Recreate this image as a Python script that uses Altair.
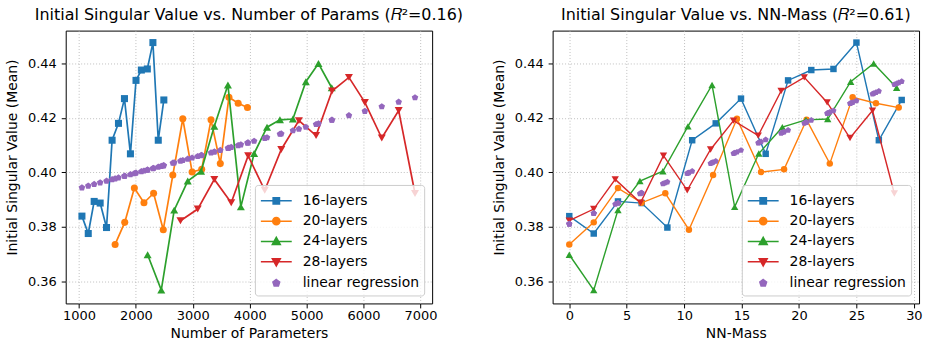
import altair as alt
import pandas as pd

SERIES = ["16-layers", "20-layers", "24-layers", "28-layers"]
REG_LABEL = "linear regression"
COLORS = ["#1f77b4", "#ff7f0e", "#2ca02c", "#d62728"]
REG_COLOR = "#9467bd"
SHAPES = ["square", "circle", "triangle-up", "triangle-down"]

# Number of parameters per model (x of the left panel)
params_16 = [1052, 1163, 1267, 1372, 1484, 1582, 1694, 1799, 1904, 2002, 2096, 2201, 2299, 2393, 2491]
params_20 = [1635, 1804, 1973, 2142, 2311, 2481, 2649, 2824, 2988, 3156, 3320, 3483, 3635, 3797, 3960]
params_24 = [2206, 2446, 2673, 2911, 3145, 3378, 3617, 3844, 4077, 4304, 4531, 4759, 4986, 5208, 5441]
params_28 = [2783, 3086, 3378, 3675, 3972, 4264, 4554, 4864, 5166, 5446, 5743, 6023, 6320, 6617, 6904]

# NN-Mass per model (x of the right panel)
mass_16 = [0, 2.13, 4.24, 6.3, 8.54, 10.7, 12.75, 14.95, 17.1, 19.05, 21.07, 23.0, 25.0, 26.95, 28.94]
mass_20 = [0, 2.13, 4.24, 6.3, 8.36, 10.42, 12.52, 14.6, 16.7, 18.7, 20.66, 22.68, 24.67, 26.7, 28.68]
mass_24 = [0, 2.13, 4.24, 6.15, 8.15, 10.33, 12.43, 14.4, 16.5, 18.55, 20.6, 22.5, 24.5, 26.5, 28.5]
mass_28 = [0, 2.13, 4.0, 6.2, 8.2, 10.27, 12.3, 14.3, 16.45, 18.44, 20.46, 22.45, 24.44, 26.4, 28.3]

# Initial singular value (mean) per model
sv_16 = [0.3839, 0.3775, 0.3893, 0.3887, 0.3797, 0.4118, 0.4180, 0.4271, 0.4068, 0.4338, 0.4376, 0.4380, 0.4477, 0.4118, 0.4266]
sv_20 = [0.3735, 0.3816, 0.3942, 0.3888, 0.3923, 0.3789, 0.3990, 0.4197, 0.4001, 0.4011, 0.4193, 0.4032, 0.4276, 0.4254, 0.4238]
sv_24 = [0.3697, 0.3567, 0.3861, 0.3968, 0.4004, 0.4169, 0.4321, 0.3873, 0.4069, 0.4166, 0.4193, 0.4196, 0.4333, 0.4400, 0.4311]
sv_28 = [0.3822, 0.3865, 0.3974, 0.3888, 0.4061, 0.3934, 0.4084, 0.4190, 0.4135, 0.4299, 0.4349, 0.4257, 0.4126, 0.4227, 0.3922]

X_TICKS_LEFT = [1000, 2000, 3000, 4000, 5000, 6000, 7000]
X_TICKS_RIGHT = [0, 5, 10, 15, 20, 25, 30]
Y_TICKS = [0.36, 0.38, 0.40, 0.42, 0.44]

TITLE_LEFT = "Initial Singular Value vs. Number of Params (\U0001D445\u00b2=0.16)"
TITLE_RIGHT = "Initial Singular Value vs. NN-Mass (\U0001D445\u00b2=0.61)"

PENTAGON = "M0,-1 L0.951,-0.309 L0.588,0.809 L-0.588,0.809 L-0.951,-0.309 Z"
# legend symbols: a line segment with the marker on it
LINE = "M-1,0 L2.1,0 "
LEG_PATHS = [
    LINE + "M0.23,-0.32 L0.87,-0.32 L0.87,0.32 L0.23,0.32 Z",
    LINE + "M0.19,0 A0.36,0.36 0 1,0 0.91,0 A0.36,0.36 0 1,0 0.19,0 Z",
    LINE + "M0.55,-0.42 L0.95,0.3 L0.15,0.3 Z",
    LINE + "M0.55,0.42 L0.95,-0.3 L0.15,-0.3 Z",
    "M0.55,-0.36 L0.892,-0.111 L0.762,0.291 L0.338,0.291 L0.208,-0.111 Z",
]


def long_table(xs_list):
    rows = []
    for s, xs, ys in zip(SERIES, xs_list, [sv_16, sv_20, sv_24, sv_28]):
        for xv, yv in zip(xs, ys):
            rows.append({"series": s, "x": xv, "y": yv})
    return pd.DataFrame(rows)


df_left = long_table([params_16, params_20, params_24, params_28])
df_right = long_table([mass_16, mass_20, mass_24, mass_28])
legend_df = pd.DataFrame({"series": SERIES + [REG_LABEL]})

Y_DOMAIN = [0.3518, 0.4521]


def panel(df, x_title, x_domain, x_ticks, title, lw, msize):
    xenc = alt.X("x:Q", title=x_title,
                 scale=alt.Scale(domain=x_domain, nice=False, zero=False),
                 axis=alt.Axis(values=x_ticks, format="d", labelPadding=1.5, titlePadding=4))
    yscale = alt.Scale(domain=Y_DOMAIN, nice=False, zero=False)
    yaxis = alt.Axis(values=Y_TICKS, format=".2f", titleY=127, labelPadding=5, titlePadding=8)
    ytitle = "Initial Singular Value (Mean)"
    base = alt.Chart(df)
    layers = []
    for s, c, shp in zip(SERIES, COLORS, SHAPES):
        sub = base.transform_filter(alt.datum.series == s)
        layers.append(sub.mark_line(color=c, strokeWidth=lw).encode(
            x=xenc, y=alt.Y("y:Q", title=ytitle, scale=yscale, axis=yaxis)))
        sz = msize * (1.3 if "triangle" in shp else 1.0)
        layers.append(sub.mark_point(filled=True, opacity=1, color=c, shape=shp, size=sz).encode(
            x=xenc, y=alt.Y("y:Q", title=ytitle, scale=yscale, axis=yaxis)))
    reg = (base
           .transform_joinaggregate(mx="mean(x)", my="mean(y)")
           .transform_calculate(dxy="(datum.x - datum.mx) * (datum.y - datum.my)",
                                dxx="(datum.x - datum.mx) * (datum.x - datum.mx)")
           .transform_joinaggregate(sxy="sum(dxy)", sxx="sum(dxx)")
           .transform_calculate(fit="datum.my + datum.sxy / datum.sxx * (datum.x - datum.mx)")
           .mark_point(filled=True, opacity=1, color=REG_COLOR, shape=PENTAGON, size=msize * 0.95)
           .encode(x=xenc, y=alt.Y("fit:Q", title=ytitle, scale=yscale, axis=yaxis)))
    layers.append(reg)
    leg_kwargs = dict(title=None, orient="bottom-right", offset=8, padding=5,
                      fillColor="rgba(255,255,255,0.8)", strokeColor="#cccccc",
                      cornerRadius=3, labelFontSize=14, labelFont="DejaVu Sans",
                      labelColor="black", symbolSize=400, symbolStrokeWidth=1.5,
                      labelOffset=21, rowPadding=2.4, symbolOpacity=1, zindex=1)
    dom = SERIES + [REG_LABEL]
    cols = COLORS + [REG_COLOR]
    leg = alt.Chart(legend_df).mark_point(filled=True, opacity=0).encode(
        color=alt.Color("series:N", scale=alt.Scale(domain=dom, range=cols),
                        legend=alt.Legend(**leg_kwargs)),
        stroke=alt.Stroke("series:N", scale=alt.Scale(domain=dom, range=cols),
                          legend=alt.Legend(**leg_kwargs)),
        shape=alt.Shape("series:N", scale=alt.Scale(domain=dom, range=LEG_PATHS),
                        legend=alt.Legend(**leg_kwargs)),
    )
    layers.append(leg)
    return alt.layer(*layers).properties(width=368, height=274, title=title)


left = panel(df_left, "Number of Parameters", [767, 7205], X_TICKS_LEFT, TITLE_LEFT, 1.7, 50)
right = panel(df_right, "NN-Mass", [-1.45, 30.45], X_TICKS_RIGHT, TITLE_RIGHT, 1.4, 42)

chart = (alt.hconcat(left, right, spacing=121, bounds="flush")
         .resolve_scale(color="independent", shape="independent", stroke="independent")
         .resolve_legend(color="independent", shape="independent", stroke="independent")
         .properties(padding={"left": 5, "top": 5, "right": 5, "bottom": 0}, background="white")
         .configure_view(stroke="black", strokeWidth=1)
         .configure_axis(labelFont="DejaVu Sans", labelFontSize=13, labelColor="black",
                         titleFont="DejaVu Sans", titleFontSize=14, titleFontWeight="normal",
                         titleColor="black", tickColor="black", tickSize=4.5, tickWidth=1,
                         domain=False, grid=True, gridDash=[1, 2],
                         gridColor="#b0b0b0", gridWidth=0.8)
         .configure_title(font="DejaVu Sans", fontSize=16, fontWeight="normal",
                          color="black", anchor="middle", offset=8))

chart.save("out.html", embed_options={"renderer": "svg", "actions": False})
